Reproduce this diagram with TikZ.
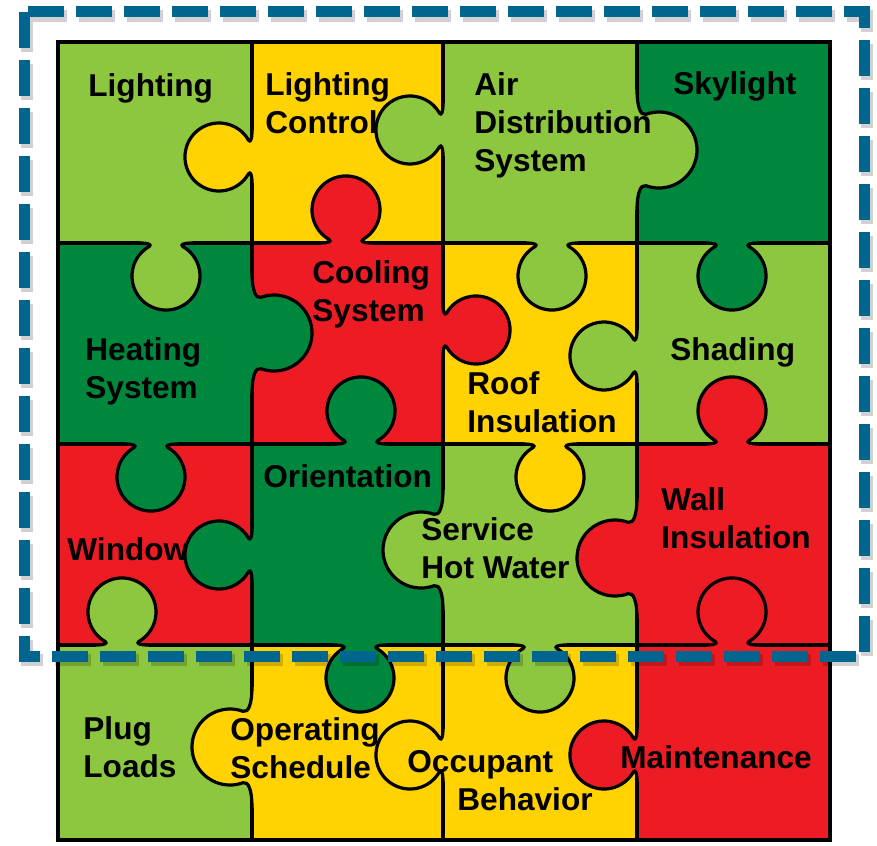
\documentclass[tikz,border=0pt]{standalone}
\usepackage{fontspec}
\setmainfont{Liberation Sans}

\definecolor{lightgreen}{HTML}{8DC63F}
\definecolor{darkgreen}{HTML}{00873E}
\definecolor{puzzleyellow}{HTML}{FFD200}
\definecolor{puzzlered}{HTML}{ED1C24}
\definecolor{framecolor}{HTML}{00658F}

% tab outlines: seam along u, bulge towards +v
\newcommand{\roundtab}{(-26,0) .. controls (-18,0) and (-13.5,1.6) .. (-17,3.6)
	arc[start angle=240, end angle=-60, radius=34]
	.. controls (13.5,1.6) and (18,0) .. (26,0)}
\newcommand{\broadtab}{(-60,0) .. controls (-44,0) and (-33.7,3.4) .. (-35.7,9)
	arc[start angle=200, end angle=-20, radius=38]
	.. controls (33.7,3.4) and (44,0) .. (60,0)}

% x, y, direction, colour, shape, half width
\newcommand{\puzzletab}[6]{%
	\begin{scope}[shift={(#1,#2)}, #3]
		\fill[#4] #5 -- (#6,-2.5) -- (-#6,-2.5) -- cycle;
		\draw[edge] #5;
	\end{scope}}

\begin{document}
\begin{tikzpicture}[
	x=0.5pt, y=-0.5pt,
	edge/.style = {line width=1.6pt, line join=round},
	border/.style = {line width=2.2pt},
	label/.style = {anchor=base west, align=left, inner sep=0pt, font=\fontsize{15.8}{19}\selectfont\bfseries},
	frame/.style = {draw=framecolor, line width=5.5pt, dash pattern=on 18pt off 6pt},
	frameshadow/.style = {draw=black, opacity=0.18, line width=6pt, dash pattern=on 18pt off 6pt},
	tabup/.style = {x={(0.5pt,0pt)}, y={(0pt,0.5pt)}},
	tabdown/.style = {x={(0.5pt,0pt)}, y={(0pt,-0.5pt)}},
	tableft/.style = {x={(0pt,-0.5pt)}, y={(-0.5pt,0pt)}},
	tabright/.style = {x={(0pt,-0.5pt)}, y={(0.5pt,0pt)}}
]
\useasboundingbox (0,0) rectangle (877,845);

% pieces
\fill[lightgreen]   (58,42)  rectangle (252,243);
\fill[puzzleyellow] (252,42) rectangle (443,243);
\fill[lightgreen]   (443,42) rectangle (637,243);
\fill[darkgreen]    (637,42) rectangle (830,243);

\fill[darkgreen]    (58,243)  rectangle (252,444);
\fill[puzzlered]    (252,243) rectangle (443,444);
\fill[puzzleyellow] (443,243) rectangle (637,444);
\fill[lightgreen]   (637,243) rectangle (830,444);

\fill[puzzlered]    (58,444)  rectangle (252,645);
\fill[darkgreen]    (252,444) rectangle (443,645);
\fill[lightgreen]   (443,444) rectangle (637,645);
\fill[puzzlered]    (637,444) rectangle (830,645);

\fill[lightgreen]   (58,645)  rectangle (252,840);
\fill[puzzleyellow] (252,645) rectangle (443,840);
\fill[puzzleyellow] (443,645) rectangle (637,840);
\fill[puzzlered]    (637,645) rectangle (830,840);

% seams
\draw[edge] (252,42) -- (252,840) (443,42) -- (443,840) (637,42) -- (637,840)
	(58,243) -- (830,243) (58,444) -- (830,444) (58,645) -- (830,645);

% tabs on the vertical seams
\puzzletab{252}{157}{tableft}{puzzleyellow}{\roundtab}{26}
\puzzletab{443}{130}{tableft}{lightgreen}{\roundtab}{26}
\puzzletab{637}{150}{tabright}{lightgreen}{\broadtab}{60}
\puzzletab{252}{333}{tabright}{darkgreen}{\broadtab}{60}
\puzzletab{443}{330}{tabright}{puzzlered}{\roundtab}{26}
\puzzletab{637}{356}{tableft}{lightgreen}{\roundtab}{26}
\puzzletab{252}{555}{tableft}{darkgreen}{\roundtab}{26}
\puzzletab{443}{550}{tableft}{lightgreen}{\broadtab}{60}
\puzzletab{637}{558}{tableft}{puzzlered}{\broadtab}{60}
\puzzletab{252}{747}{tableft}{puzzleyellow}{\broadtab}{60}
\puzzletab{443}{755}{tableft}{puzzleyellow}{\roundtab}{26}
\puzzletab{637}{755}{tableft}{puzzlered}{\roundtab}{26}

% tabs on the horizontal seams
\puzzletab{166}{243}{tabdown}{lightgreen}{\roundtab}{26}
\puzzletab{346}{243}{tabup}{puzzlered}{\roundtab}{26}
\puzzletab{552}{243}{tabdown}{lightgreen}{\roundtab}{26}
\puzzletab{732}{243}{tabdown}{darkgreen}{\roundtab}{26}
\puzzletab{151}{444}{tabdown}{darkgreen}{\roundtab}{26}
\puzzletab{361}{444}{tabup}{darkgreen}{\roundtab}{26}
\puzzletab{550}{444}{tabdown}{puzzleyellow}{\roundtab}{26}
\puzzletab{732}{444}{tabup}{puzzlered}{\roundtab}{26}
\puzzletab{122}{645}{tabup}{lightgreen}{\roundtab}{26}
\puzzletab{360}{645}{tabdown}{darkgreen}{\roundtab}{26}
\puzzletab{540}{645}{tabdown}{lightgreen}{\roundtab}{26}
\puzzletab{732}{645}{tabup}{puzzlered}{\roundtab}{26}

\draw[border] (58,42) rectangle (830,840);

% labels (multi-line ones sit on their last baseline)
\node[label] (lighting)    at (88,97)   {Lighting};
\node[label] (lightctrl)   at (265,134) {Lighting\\Control};
\node[label] (airdist)     at (474,172) {Air\\Distribution\\System};
\node[label] (skylight)    at (673,95)  {Skylight};
\node[label] (heating)     at (85,398)  {Heating\\System};
\node[label] (cooling)     at (312,321) {Cooling\\System};
\node[label] (roof)        at (467,432) {Roof\\Insulation};
\node[label] (shading)     at (670,360) {Shading};
\node[label] (window)      at (67,560)  {Window};
\node[label] (orientation) at (263,487) {Orientation};
\node[label] (hotwater)    at (421,578) {Service\\Hot Water};
\node[label] (wall)        at (661,548) {Wall\\Insulation};
\node[label] (plug)        at (83,777)  {Plug\\Loads};
\node[label] (operating)   at (230,778) {Operating\\Schedule};
\node[label] (occupant)    at (407,810) {Occupant\\\hspace*{25pt}Behavior};
\node[label] (maintenance) at (620,768) {Maintenance};

% dashed frame
\draw[frameshadow] (27,16) rectangle (867,660);
\draw[frame] (24,12) rectangle (864,656);

\end{tikzpicture}
\end{document}
